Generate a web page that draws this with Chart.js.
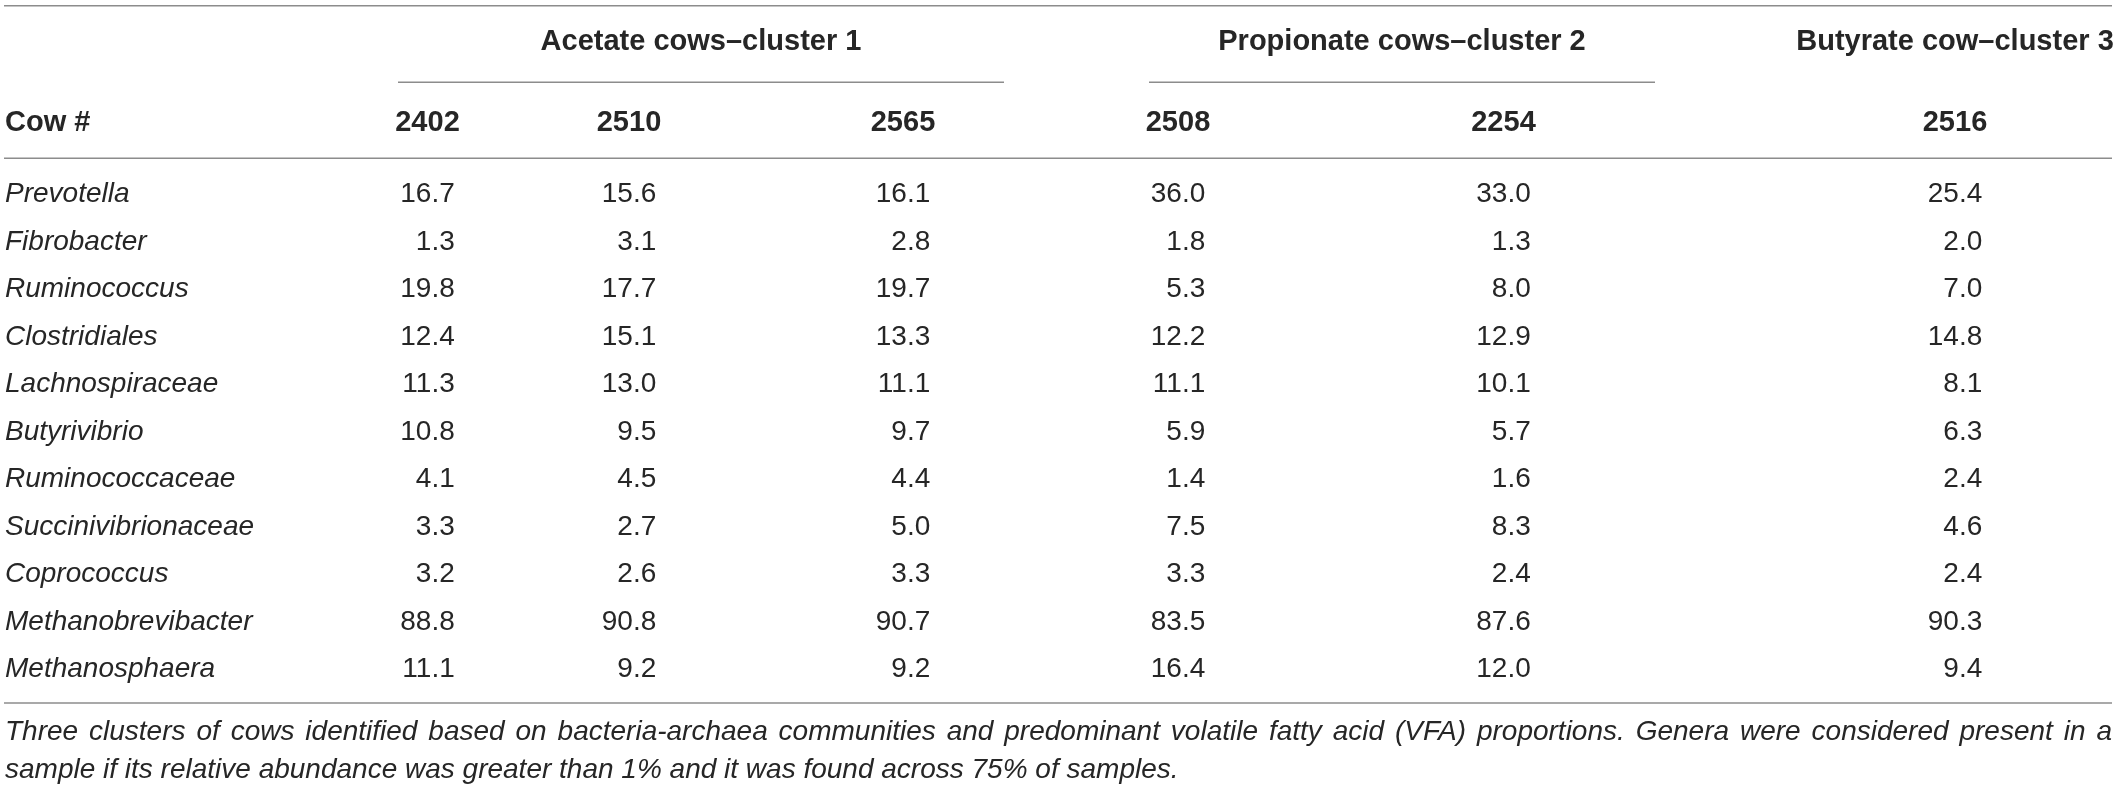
<!DOCTYPE html>
<html lang="en">
<head>
    <meta charset="UTF-8">
    <title>Genera relative abundance by cow cluster</title>
    <script src="https://cdn.jsdelivr.net/npm/chart.js"></script>
    <style>
        html, body { margin: 0; padding: 0; background: #fff; }
        #wrap { width: 2120px; height: 789px; position: relative; }
    </style>
</head>
<body>
<div id="wrap"><canvas id="tableChart"></canvas></div>
<script>
// ---- data ----
const genera = ["Prevotella", "Fibrobacter", "Ruminococcus", "Clostridiales", "Lachnospiraceae",
    "Butyrivibrio", "Ruminococcaceae", "Succinivibrionaceae", "Coprococcus",
    "Methanobrevibacter", "Methanosphaera"];
const cows = ["2402", "2510", "2565", "2508", "2254", "2516"];
const clusters = ["Acetate cows\u2013cluster 1", "Propionate cows\u2013cluster 2", "Butyrate cow\u2013cluster 3"];

const cow2402 = [16.7, 1.3, 19.8, 12.4, 11.3, 10.8, 4.1, 3.3, 3.2, 88.8, 11.1];
const cow2510 = [15.6, 3.1, 17.7, 15.1, 13.0, 9.5, 4.5, 2.7, 2.6, 90.8, 9.2];
const cow2565 = [16.1, 2.8, 19.7, 13.3, 11.1, 9.7, 4.4, 5.0, 3.3, 90.7, 9.2];
const cow2508 = [36.0, 1.8, 5.3, 12.2, 11.1, 5.9, 1.4, 7.5, 3.3, 83.5, 16.4];
const cow2254 = [33.0, 1.3, 8.0, 12.9, 10.1, 5.7, 1.6, 8.3, 2.4, 87.6, 12.0];
const cow2516 = [25.4, 2.0, 7.0, 14.8, 8.1, 6.3, 2.4, 4.6, 2.4, 90.3, 9.4];
const cowValues = [cow2402, cow2510, cow2565, cow2508, cow2254, cow2516];

const rowHeader = "Cow #";
const footnoteLines = [
    "Three clusters of cows identified based on bacteria-archaea communities and predominant volatile fatty acid (VFA) proportions. Genera were considered present in a",
    "sample if its relative abundance was greater than 1% and it was found across 75% of samples."
];

// ---- layout (x in scale units, y in canvas px) ----
const colCenter = [427.5, 629, 903, 1178, 1503.5, 1955];
const groupSpan = [[398, 1004, true], [1149, 1655, true], [1800, 2110, false]];
const rules = { color: "#8c8c8c", width: 1.5, x0: 4, x1: 2112, top: 5.7, group: 82.3, head: 158.3, bottom: 703 };
const groupTextY = 41.7;
const footY = [740, 778];
const FONT = "'Liberation Sans', Arial, Helvetica, sans-serif";
const INK = "#262626";

const tablePlugin = {
    id: "tableText",
    afterDatasetsDraw(chart) {
        const ctx = chart.ctx;
        ctx.save();
        ctx.fillStyle = INK;
        ctx.font = "28px " + FONT;
        ctx.textBaseline = "middle";
        ctx.textAlign = "right";
        chart.data.datasets.forEach((ds, j) => {
            const vals = cowValues[j].map(v => v.toFixed(1));
            const half = Math.max(...vals.map(t => ctx.measureText(t).width)) / 2;
            chart.getDatasetMeta(j).data.forEach((el, i) => {
                ctx.fillText(vals[i], el.x + half, el.y);
            });
        });
        ctx.restore();
    },
    afterDraw(chart) {
        const ctx = chart.ctx;
        const xs = chart.scales.x;
        const ys = chart.scales.y;
        ctx.save();

        // horizontal rules
        ctx.strokeStyle = rules.color;
        ctx.lineWidth = rules.width;
        [rules.top, rules.head, rules.bottom].forEach(y => {
            ctx.beginPath(); ctx.moveTo(rules.x0, y); ctx.lineTo(rules.x1, y); ctx.stroke();
        });
        groupSpan.forEach(g => {
            if (!g[2]) return;
            ctx.beginPath();
            ctx.moveTo(xs.getPixelForValue(g[0]), rules.group);
            ctx.lineTo(xs.getPixelForValue(g[1]), rules.group);
            ctx.stroke();
        });

        // cluster headings
        ctx.fillStyle = INK;
        ctx.font = "bold 29px " + FONT;
        ctx.textAlign = "center";
        ctx.textBaseline = "middle";
        clusters.forEach((c, k) => {
            const mid = (xs.getPixelForValue(groupSpan[k][0]) + xs.getPixelForValue(groupSpan[k][1])) / 2;
            ctx.fillText(c, mid, groupTextY);
        });

        // "Cow #" on the header row, level with the x tick labels
        const headY = xs.bottom - xs.options.ticks.padding - 29 * 1.2 / 2;
        ctx.textAlign = "left";
        ctx.fillText(rowHeader, ys.left, headY);

        // footnote, first line justified
        ctx.font = "italic 28px " + FONT;
        ctx.textBaseline = "alphabetic";
        const words = footnoteLines[0].split(" ");
        const wordW = words.map(w => ctx.measureText(w).width);
        const gap = (rules.x1 - 5 - wordW.reduce((a, b) => a + b, 0)) / (words.length - 1);
        let x = 5;
        words.forEach((w, k) => { ctx.fillText(w, x, footY[0]); x += wordW[k] + gap; });
        ctx.fillText(footnoteLines[1], 5, footY[1]);

        ctx.restore();
    }
};

const datasets = cowValues.map((vals, j) => ({
    label: cows[j],
    data: genera.map(g => ({ x: colCenter[j], y: g })),
    pointRadius: 0,
    pointHoverRadius: 0,
    showLine: false
}));

new Chart(document.getElementById("tableChart"), {
    type: "scatter",
    data: { datasets: datasets },
    options: {
        responsive: true,
        maintainAspectRatio: false,
        animation: false,
        events: [],
        layout: { padding: { left: 5, right: 0, top: 75.95, bottom: 95.85 } },
        plugins: { legend: { display: false }, tooltip: { enabled: false } },
        scales: {
            x: {
                type: "linear",
                position: "top",
                min: 380,
                max: 2120,
                bounds: "data",
                grid: { display: false, drawTicks: false },
                border: { display: false },
                afterBuildTicks: axis => { axis.ticks = colCenter.map(v => ({ value: v })); },
                ticks: {
                    autoSkip: false,
                    maxRotation: 0,
                    minRotation: 0,
                    padding: 29.95,
                    color: INK,
                    font: { family: FONT, size: 29, weight: "bold", lineHeight: 1.2 },
                    callback: (v, i) => cows[i]
                }
            },
            y: {
                type: "category",
                labels: genera,
                offset: true,
                position: "left",
                grid: { display: false, drawTicks: false },
                border: { display: false },
                afterFit: scale => { scale.width = 375; },
                ticks: {
                    autoSkip: false,
                    crossAlign: "far",
                    color: INK,
                    font: { family: FONT, size: 28, style: "italic", lineHeight: 1.2 }
                }
            }
        }
    },
    plugins: [tablePlugin]
});
</script>
</body>
</html>
